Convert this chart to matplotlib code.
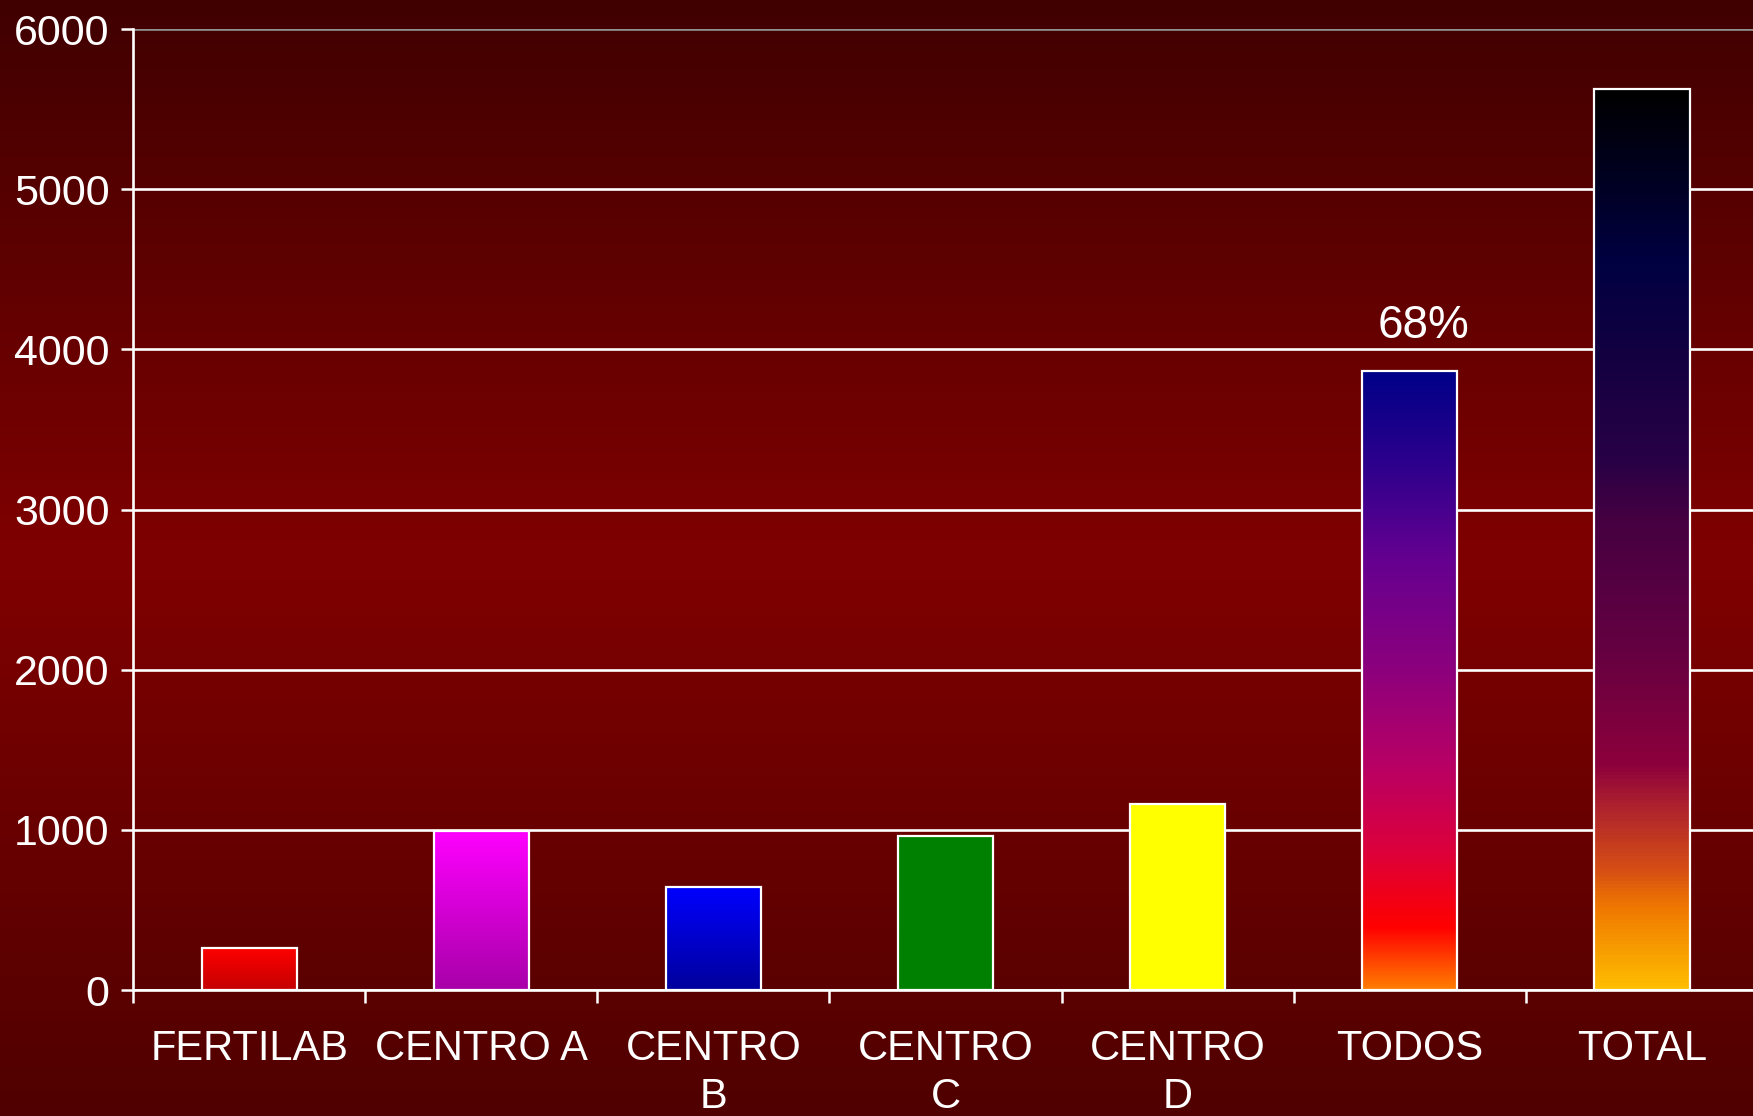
import numpy as np
import matplotlib
matplotlib.use('Agg')
import matplotlib.pyplot as plt
from matplotlib.colors import LinearSegmentedColormap

plt.rcParams['font.family'] = ['Liberation Sans', 'DejaVu Sans']

categorias = ['FERTILAB', 'CENTRO A', 'CENTRO\nB', 'CENTRO\nC', 'CENTRO\nD', 'TODOS', 'TOTAL']
valores = [265, 995, 645, 963, 1160, 3865, 5625]
etiqueta_todos = '68%'
yticks = [0, 1000, 2000, 3000, 4000, 5000, 6000]

# degradados de cada barra: (posicion desde abajo, color)
degradados = [
    [(0, '#c40000'), (1, '#ff0000')],
    [(0, '#a800a8'), (1, '#ff00ff')],
    [(0, '#00009c'), (1, '#0000ff')],
    [(0, '#008000'), (1, '#008000')],
    [(0, '#ffff00'), (1, '#ffff00')],
    [(0, '#ff7d00'), (0.10, '#ff0000'), (0.225, '#dc003c'), (0.36, '#b90064'),
     (0.52, '#8c007d'), (0.70, '#640091'), (0.85, '#2d008c'), (1, '#000088')],
    [(0, '#ffbe00'), (0.09, '#f07800'), (0.13, '#d75014'), (0.20, '#af232d'),
     (0.25, '#8c003c'), (0.38, '#640041'), (0.52, '#460041'), (0.59, '#280046'),
     (0.70, '#140041'), (0.81, '#000041'), (1, '#000000')],
]

fig = plt.figure(figsize=(17.53, 11.16), dpi=100)

# fondo degradado de toda la figura
fondo = LinearSegmentedColormap.from_list('fondo', [(0, '#500000'), (0.5, '#800000'), (1, '#400000')])
ax_bg = fig.add_axes([0, 0, 1, 1], zorder=-1)
ax_bg.imshow(np.linspace(0, 1, 256).reshape(-1, 1), cmap=fondo, origin='lower',
             aspect='auto', extent=[0, 1, 0, 1])
ax_bg.axis('off')

ax = fig.add_axes([0.0759, 0.1129, 0.927, 0.861])
ax.set_facecolor('none')

x = np.arange(len(categorias))
barras = ax.bar(x, valores, width=0.41, facecolor='none', edgecolor='white',
                linewidth=1.6, zorder=3)

for rect, stops in zip(barras, degradados):
    cmap = LinearSegmentedColormap.from_list('g', stops)
    x0, y0 = rect.get_x(), rect.get_y()
    ax.imshow(np.linspace(0, 1, 256).reshape(-1, 1), cmap=cmap, origin='lower',
              aspect='auto', extent=[x0, x0 + rect.get_width(), y0, y0 + rect.get_height()],
              zorder=2.5)

ax.annotate(etiqueta_todos, (x[5], valores[5]), xytext=(14, 23), textcoords='offset pixels',
            ha='center', va='bottom', color='white', fontsize=33)

ax.set_xlim(-0.5, len(categorias) - 0.5)
ax.set_ylim(0, 6000)
ax.set_yticks(yticks)
ax.set_xticks(x)
ax.set_xticklabels(categorias, fontsize=30, color='white', linespacing=1.27)
ax.set_xticks(np.arange(len(categorias) + 1) - 0.5, minor=True)
ax.tick_params(axis='x', which='major', length=0, pad=28)
ax.tick_params(axis='x', which='minor', length=9, width=1.8, color='white', direction='out')
ax.tick_params(axis='y', length=9, width=1.8, color='white', direction='out',
               labelsize=31, labelcolor='white', pad=8)

ax.set_axisbelow(True)
ax.yaxis.grid(True, color='white', linewidth=1.9)
ax.get_ygridlines()[-1].set_color('#909090')

for lado in ['top', 'right']:
    ax.spines[lado].set_visible(False)
for lado in ['left', 'bottom']:
    ax.spines[lado].set_color('white')
    ax.spines[lado].set_linewidth(1.9)

fig.savefig('out.png', dpi=100)
